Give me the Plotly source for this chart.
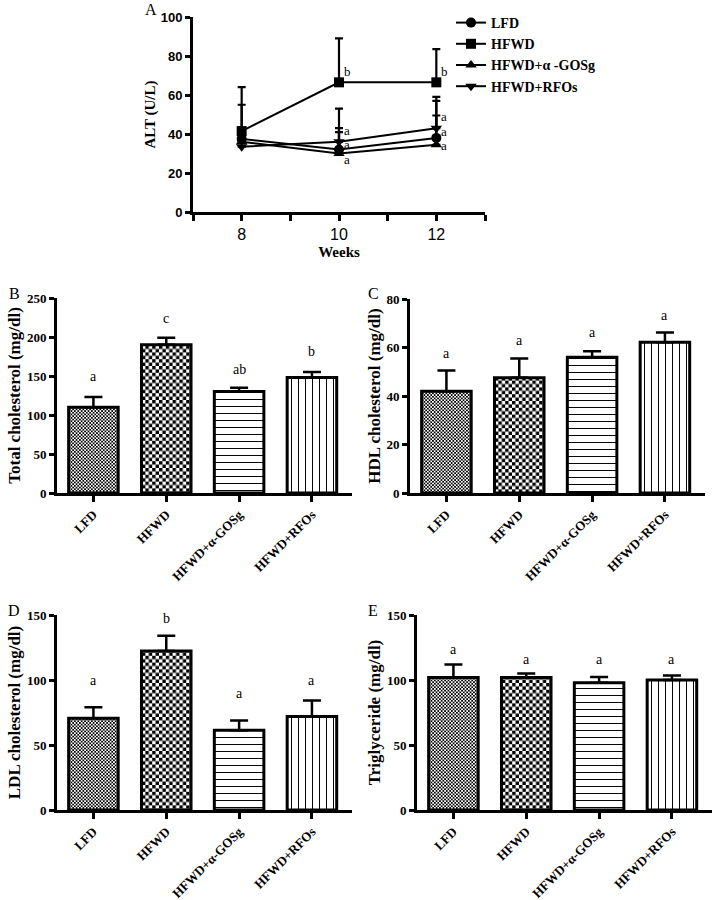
import plotly.graph_objects as go

SERIF = "Liberation Serif"
SANS = "Liberation Sans"

# ---------------- data ----------------
weeks = [8, 10, 12]
week_ticks = [7, 8, 9, 10, 11, 12, 13]
week_ticktext = ["", "8", "", "10", "", "12", ""]

alt_lfd = [37.5, 32, 38]
alt_lfd_err = [17.5, 11, 19]
alt_hfwd = [41.5, 66.5, 66.5]
alt_hfwd_err = [22.5, 22.5, 17]
alt_gos = [36, 30, 34.5]
alt_gos_err = [2, 11, 15]
alt_rfo = [33.5, 36, 43]
alt_rfo_err = [3, 17, 16]
alt_letters_10 = ["b", "a", "a", "a"]
alt_letters_12 = ["b", "a", "a", "a"]
alt_letter_y_10 = [72, 42, 34.5, 27]
alt_letter_y_12 = [72, 49, 41.5, 34]

groups = ["LFD", "HFWD", "HFWD+α-GOSg", "HFWD+RFOs"]
legend_names = ["LFD", "HFWD", "HFWD+α -GOSg", "HFWD+RFOs"]

tc = [110, 190, 130, 148]
tc_err = [13, 9, 5, 7]
tc_letters = ["a", "c", "ab", "b"]
tc_letter_y = [150, 224, 158, 181]

hdl = [42, 47.5, 56, 62.2]
hdl_err = [8.5, 8, 2.5, 4]
hdl_letters = ["a", "a", "a", "a"]
hdl_letter_y = [57.7, 62.8, 66.3, 73.1]

ldl = [70.5, 122.3, 61.3, 72]
ldl_err = [8.5, 11.7, 7.5, 12.3]
ldl_letters = ["a", "b", "a", "a"]
ldl_letter_y = [100, 147.5, 89.5, 99.5]

tg = [102, 102, 97.8, 100]
tg_err = [10, 3, 4.5, 3.5]
tg_letters = ["a", "a", "a", "a"]
tg_letter_y = [123.5, 116, 115.5, 116]

# ---------------- styles ----------------
def checker(s):
    h = s / 2
    return f"M0,0H{h}V{h}H0Z M{h},{h}H{s}V{s}H{h}Z"


pattern_specs = [
    dict(path=checker(3.4), size=3.4, fallback=dict(shape="x", size=3.2, solidity=0.5)),
    dict(path=checker(6.8), size=6.8, fallback=dict(shape="x", size=7, solidity=0.55)),
    dict(path=None, fallback=dict(shape="-", size=7, solidity=0.14)),
    dict(path=None, fallback=dict(shape="|", size=7, solidity=0.14)),
]

try:
    go.bar.marker.Pattern(path="M0,0H1V1H0Z")
    PATH_OK = True
except Exception:
    PATH_OK = False


def make_pattern(spec):
    base = dict(fgcolor="black", bgcolor="white", fillmode="replace")
    if PATH_OK and spec["path"]:
        return dict(base, path=spec["path"], size=spec["size"], solidity=1)
    return dict(base, **spec["fallback"])


# ---------------- figure ----------------
fig = go.Figure()

symbols = ["circle", "square", "triangle-up", "triangle-down"]
series = [(alt_lfd, alt_lfd_err), (alt_hfwd, alt_hfwd_err),
          (alt_gos, alt_gos_err), (alt_rfo, alt_rfo_err)]
for name, sym, (vals, errs) in zip(legend_names, symbols, series):
    fig.add_trace(go.Scatter(
        x=weeks, y=vals, name=name, mode="lines+markers",
        line=dict(color="black", width=2),
        marker=dict(symbol=sym, size=10, color="black"),
        error_y=dict(type="data", array=errs, arrayminus=[0] * len(errs),
                     symmetric=False, color="black", thickness=2.2, width=4),
        xaxis="x", yaxis="y", showlegend=True,
    ))

panels = [
    ("x2", "y2", tc, tc_err, tc_letters, tc_letter_y),
    ("x3", "y3", hdl, hdl_err, hdl_letters, hdl_letter_y),
    ("x4", "y4", ldl, ldl_err, ldl_letters, ldl_letter_y),
    ("x5", "y5", tg, tg_err, tg_letters, tg_letter_y),
]

annotations = []
for xa, ya, vals, errs, letters, ly in panels:
    for i, g in enumerate(groups):
        fig.add_trace(go.Bar(
            x=[i], y=[vals[i]], width=0.68, name=g,
            marker=dict(color="white", line=dict(color="black", width=3),
                        pattern=make_pattern(pattern_specs[i])),
            error_y=dict(type="data", array=[errs[i]], arrayminus=[0],
                         symmetric=False, color="black", thickness=2.5, width=9),
            xaxis=xa, yaxis=ya, showlegend=False,
        ))
    for i, (t, yv) in enumerate(zip(letters, ly)):
        annotations.append(dict(
            x=i, y=yv, xref=xa, yref=ya, text=t, showarrow=False,
            font=dict(family=SERIF, size=14, color="black"),
            yanchor="middle", xanchor="center"))

for t, yv in zip(alt_letters_10, alt_letter_y_10):
    annotations.append(dict(x=weeks[1], y=yv, xref="x", yref="y", text=t,
                            showarrow=False, xanchor="left", xshift=3,
                            font=dict(family=SERIF, size=13, color="black")))
for t, yv in zip(alt_letters_12, alt_letter_y_12):
    annotations.append(dict(x=weeks[2], y=yv, xref="x", yref="y", text=t,
                            showarrow=False, xanchor="left", xshift=3,
                            font=dict(family=SERIF, size=13, color="black")))

for lab, px, py in [("A", 151, 10), ("B", 14, 293), ("C", 373, 293),
                    ("D", 14, 610), ("E", 373, 610)]:
    annotations.append(dict(x=px / 718, y=1 - py / 900, xref="paper", yref="paper",
                            text=lab, showarrow=False, xanchor="center",
                            yanchor="middle",
                            font=dict(family=SERIF, size=16, color="black")))

W, H = 718, 900


def dom_x(a, b):
    return [a / W, b / W]


def dom_y(top, bottom):
    return [1 - bottom / H, 1 - top / H]


axis_common = dict(showline=True, linewidth=3, linecolor="black", ticks="outside",
                   tickwidth=2.5, tickcolor="black", showgrid=False, zeroline=False,
                   automargin=False)

bar_x = dict(axis_common, range=[-0.5, 3.55], tickvals=[0, 1, 2, 3], ticktext=groups,
             tickangle=-45, ticklen=6,
             tickfont=dict(family=SERIF, size=13, color="black", weight="bold"))


def bar_y(rng, dtick, title, anchor):
    return dict(axis_common, range=rng, dtick=dtick, ticklen=5, anchor=anchor,
                tickfont=dict(family=SERIF, size=13, color="black", weight="bold"),
                title=dict(text=title, standoff=2,
                           font=dict(family=SERIF, size=17, color="black", weight="bold")))


fig.update_layout(
    width=W, height=H, margin=dict(l=0, r=0, t=0, b=0, autoexpand=False),
    paper_bgcolor="white", plot_bgcolor="white", barmode="overlay",
    xaxis=dict(axis_common, domain=dom_x(193, 485), range=[7, 13], tickvals=week_ticks,
               ticktext=week_ticktext, ticklen=6, anchor="y",
               tickfont=dict(family=SANS, size=16, color="black"),
               title=dict(text="Weeks", standoff=5,
                          font=dict(family=SERIF, size=15, color="black", weight="bold"))),
    yaxis=dict(axis_common, domain=dom_y(17, 212), range=[0, 100], dtick=20, ticklen=5,
               anchor="x",
               tickfont=dict(family=SANS, size=13, color="black", weight="bold"),
               title=dict(text="ALT (U/L)", standoff=2,
                          font=dict(family=SERIF, size=15, color="black", weight="bold"))),
    xaxis2=dict(bar_x, domain=dom_x(57, 352), anchor="y2"),
    yaxis2=bar_y([0, 250], 50, "Total cholesterol (mg/dl)", "x2") | dict(domain=dom_y(298, 493)),
    xaxis3=dict(bar_x, domain=dom_x(410, 705), anchor="y3"),
    yaxis3=bar_y([0, 80], 20, "HDL cholesterol (mg/dl)", "x3") | dict(domain=dom_y(299, 493)),
    xaxis4=dict(bar_x, domain=dom_x(57, 352), anchor="y4"),
    yaxis4=bar_y([0, 150], 50, "LDL cholesterol (mg/dl)", "x4") | dict(domain=dom_y(615, 810)),
    xaxis5=dict(bar_x, domain=dom_x(417, 712), anchor="y5"),
    yaxis5=bar_y([0, 150], 50, "Triglyceride (mg/dl)", "x5") | dict(domain=dom_y(615, 810)),
    legend=dict(x=451 / W, y=1 - 7 / H, xanchor="left", yanchor="top",
                bgcolor="rgba(0,0,0,0)", itemwidth=30,
                font=dict(family=SERIF, size=14, color="black", weight="bold")),
    annotations=annotations,
)

fig.write_html("out.html", config={"displayModeBar": False},
               post_script="document.body.style.margin='0';document.body.style.overflow='hidden';")
